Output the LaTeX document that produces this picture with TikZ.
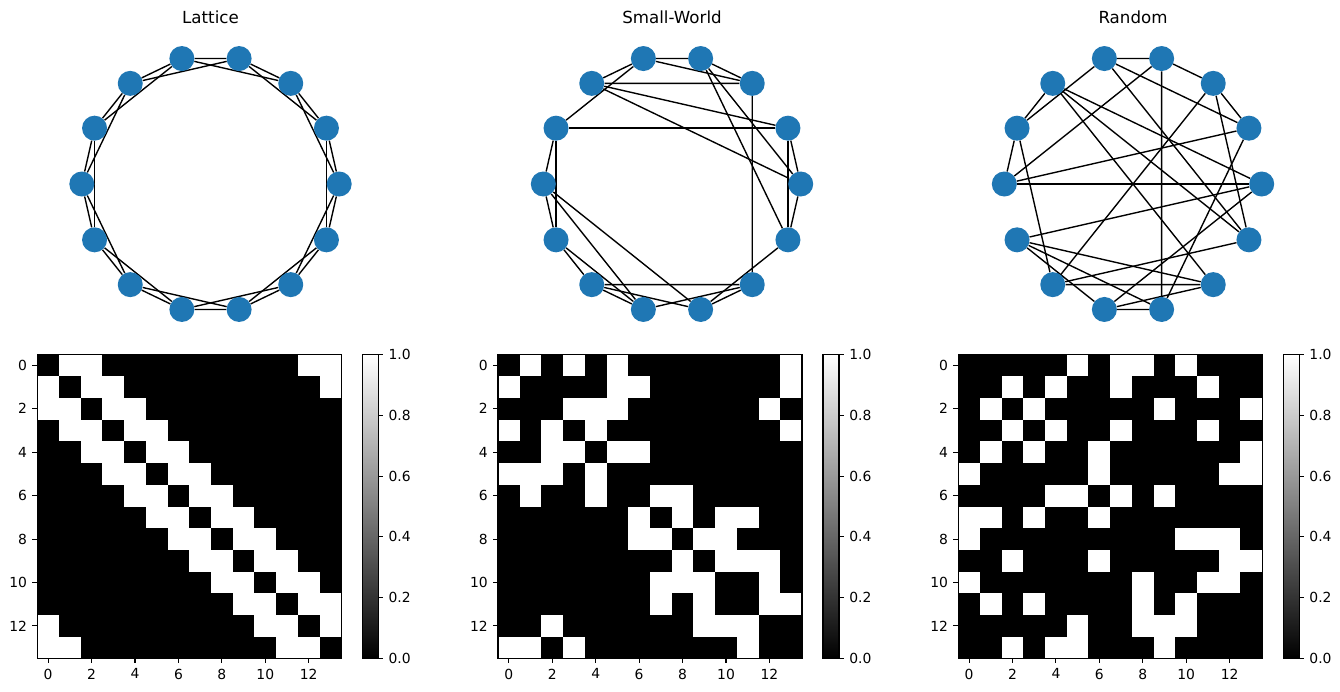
\documentclass[tikz,border=0pt]{standalone}
\usepackage{fontspec}
\setmainfont{DejaVu Sans}
\usetikzlibrary{backgrounds}
\definecolor{nxblue}{HTML}{1F77B4}

% neighbours of each vertex, row by row
\def\rowsL{{1,2,12,13},{0,2,3,13},{0,1,3,4},{1,2,4,5},{2,3,5,6},{3,4,6,7},{4,5,7,8},{5,6,8,9},{6,7,9,10},{7,8,10,11},{8,9,11,12},{9,10,12,13},{0,10,11,13},{0,1,11,12}}
\def\rowsS{{1,3,5,13},{0,5,6,13},{3,4,5,12},{0,2,4,13},{2,3,5,6},{0,1,2,4},{1,4,7,8},{6,8,10,11},{6,7,9,10},{8,10,11,12},{7,8,9,12},{7,9,12,13},{2,9,10,11},{0,1,3,11}}
\def\rowsR{{5,7,8,10},{2,4,7,11},{1,3,9,13},{2,4,7,11},{1,3,6,13},{0,6,12,13},{4,5,7,9},{0,1,3,6},{0,10,11,12},{2,6,12,13},{0,8,11,12},{1,3,8,10},{5,8,9,10},{2,4,5,9}}

\begin{document}
\begin{tikzpicture}[
    x=0.72pt, y=-0.72pt,
    vertex/.style={circle, fill=nxblue, inner sep=0pt, minimum size=18pt},
    edge/.style={line width=1pt, black},
    ttl/.style={font=\fontsize{12pt}{14pt}\selectfont, inner sep=0pt},
    ticklabel/.style={font=\fontsize{10pt}{12pt}\selectfont, inner sep=0pt},
    tick/.style={line width=0.8pt},
    frame/.style={draw=black, line width=0.8pt}
]
\useasboundingbox (0,0) rectangle (1340,692);
\begin{scope}[on background layer]
  \fill[white] (0,0) rectangle (1340,692);
\end{scope}

\foreach \pre/\cx/\mx/\ttltext in {L/210.5/37.3/Lattice, S/672/498/Small-World, R/1133/958.2/Random} {
  \expandafter\let\expandafter\rows\csname rows\pre\endcsname
  % graph on the circle
  \node[ttl] (\pre title) at (\cx,17) {\ttltext};
  \foreach \i in {0,...,13}
    \node[vertex] (\pre\i) at ({\cx+128.7*cos(360*\i/14)},{184-128.7*sin(360*\i/14)}) {};
  \begin{scope}[on background layer]
    \foreach \cols [count=\row from 0] in \rows
      \foreach \col in \cols {
        \ifnum\col>\row\relax \draw[edge] (\pre\row) -- (\pre\col); \fi
      }
  \end{scope}
  % adjacency matrix
  \fill[black] (\mx,354.5) rectangle ++(304,304);
  \foreach \cols [count=\row from 0] in \rows
    \foreach \col in \cols
      \fill[white] ({\mx+\col*21.714},{354.5+\row*21.714}) rectangle ++(21.714,21.714);
  \draw[frame] (\mx,354.5) rectangle ++(304,304);
  \foreach \t in {0,2,...,12} {
    \draw[tick] ({\mx+(\t+0.5)*21.714},658.5) -- ++(0,4.86)
      node[ticklabel, anchor=north, yshift=-3.5pt] (\pre x\t) {\t};
    \draw[tick] (\mx,{354.5+(\t+0.5)*21.714}) -- ++(-4.86,0)
      node[ticklabel, anchor=east, xshift=-3.5pt] (\pre y\t) {\t};
  }
  % colour bar
  \shade[bottom color=black, top color=white] ({\mx+325},354.5) rectangle ++(16,304);
  \draw[frame] ({\mx+325},354.5) rectangle ++(16,304);
  \foreach \val [count=\k] in {0.0,0.2,0.4,0.6,0.8,1.0}
    \draw[tick] ({\mx+341},{658.5-\val*304}) -- ++(4.86,0)
      node[ticklabel, anchor=west, xshift=3.5pt] (\pre c\k) {\val};
}
\end{tikzpicture}
\end{document}
